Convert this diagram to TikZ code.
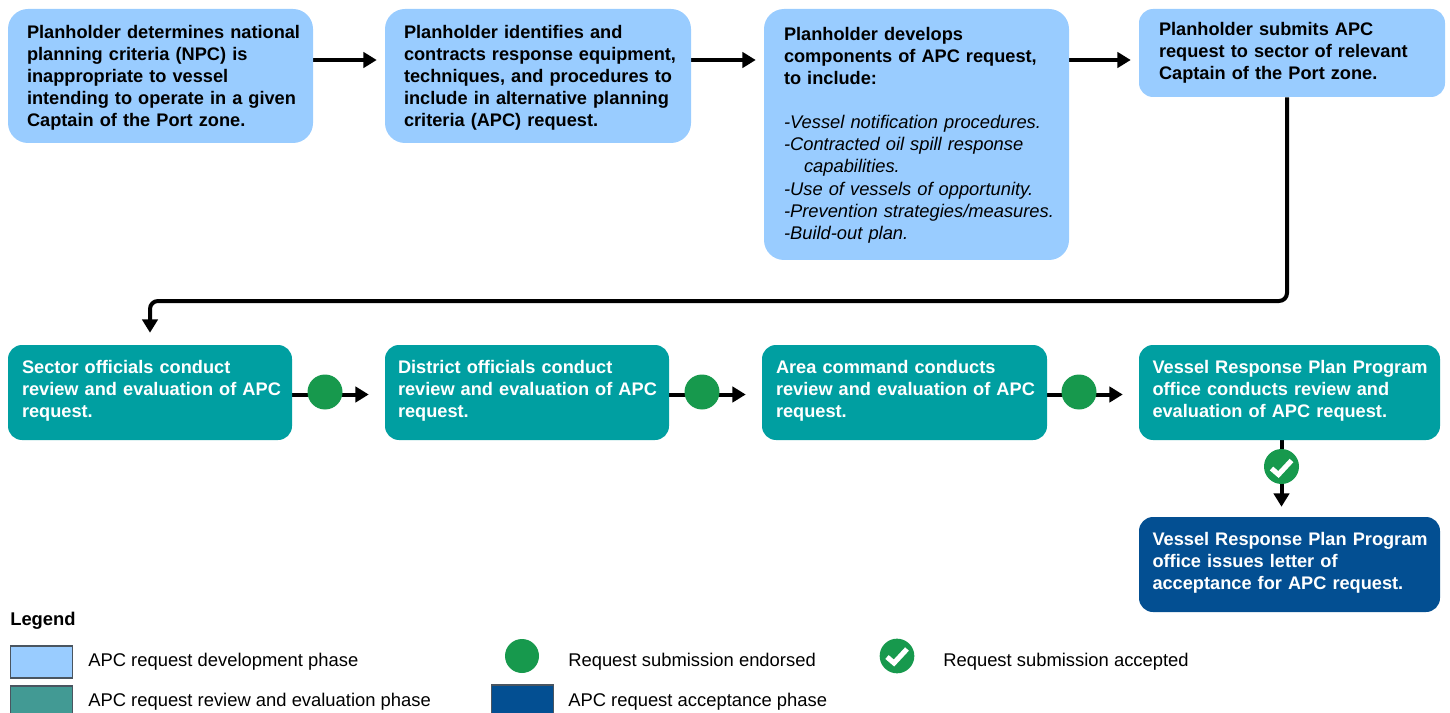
\documentclass[tikz,border=0pt]{standalone}
\usepackage{fontspec}
\setmainfont{Liberation Sans}
\usetikzlibrary{arrows.meta}
\definecolor{devblue}{HTML}{99CCFF}
\definecolor{revteal}{HTML}{009FA1}
\definecolor{accblue}{HTML}{034F92}
\definecolor{endgreen}{HTML}{17994D}
\definecolor{legteal}{HTML}{429A94}
\definecolor{legedge}{HTML}{4A5560}
\pgfdeclarelayer{back}
\pgfsetlayers{back,main}
\tikzset{
  x=0.75pt,y=-0.75pt,
  phase/.style n args={4}{rectangle,rounded corners=#4*0.75pt,minimum width=#1*0.75pt,minimum height=#2*0.75pt,
    text width=#1*0.75pt,inner xsep=0pt,inner ysep=0pt,align=left,
    font=\fontsize{13.65}{16.5}\selectfont\bfseries,
    execute at begin node={\pgfmathsetlength\leftskip{#3*0.75pt}}},
  dev/.style={fill=devblue,text=black},
  rev/.style={fill=revteal,text=white},
  acc/.style={fill=accblue,text=white},
  flow/.style={line width=3pt,-{Triangle[length=10pt,width=11.5pt]},shorten >=6pt},
  rowflow/.style={flow,shorten >=12pt},
  endorse/.style={circle,fill=endgreen,minimum size=26.25pt,inner sep=0pt},
  tick/.style={draw=white,line width=3.8pt},
  legbox/.style={rectangle,draw=legedge,line width=0.9pt,minimum width=47pt,minimum height=24pt,inner sep=0pt},
  legtext/.style={anchor=base west,inner sep=0pt,font=\fontsize{13.8}{15}\selectfont,text=black},
}
\begin{document}
\begin{tikzpicture}
\useasboundingbox (0,0) rectangle (1450,713);
\clip (0,0) rectangle (1450,713);
% process boxes
\node[phase={305}{134}{19}{20},dev] (a) at (160.5,76) {Planholder determines national\\planning criteria (NPC) is\\inappropriate to vessel\\intending to operate in a given\\Captain of the Port zone.\par\vspace{-3pt}};
\node[phase={306}{134}{19}{20},dev] (b) at (538,76) {Planholder identifies and\\contracts response equipment,\\techniques, and procedures to\\include in alternative planning\\criteria (APC) request.\par\vspace{-3pt}};
\node[phase={305}{251}{20}{20},dev] (c) at (916.5,134.5) {Planholder develops\\components of APC request,\\to include:\\\mbox{}\\\fontsize{13.75}{16.65}\selectfont\normalfont\itshape -Vessel notification procedures.\\-Contracted oil spill response\\\hspace*{15pt}capabilities.\\-Use of vessels of opportunity.\\-Prevention strategies/measures.\\-Build-out plan.\par\vspace{-1pt}};
\node[phase={306}{88}{20}{14},dev] (d) at (1292,53) {Planholder submits APC\\request to sector of relevant\\Captain of the Port zone.\par\vspace{0pt}};
\node[phase={284}{95}{14}{14},rev] (e) at (150,392.5) {Sector officials conduct\\review and evaluation of APC\\request.\par\vspace{2pt}};
\node[phase={284}{95}{13}{14},rev] (f) at (527,392.5) {District officials conduct\\review and evaluation of APC\\request.\par\vspace{2pt}};
\node[phase={285}{95}{14}{14},rev] (g) at (904.5,392.5) {Area command conducts\\review and evaluation of APC\\request.\par\vspace{2pt}};
\node[phase={301}{95}{13.5}{14},rev] (h) at (1289.5,392.5) {Vessel Response Plan Program\\office conducts review and\\evaluation of APC request.\par\vspace{2pt}};
\node[phase={301}{95}{13.5}{14},acc] (i) at (1289.5,564.5) {Vessel Response Plan Program\\office issues letter of\\acceptance for APC request.\par\vspace{2pt}};
% decision markers
\node[endorse] (m1) at (325,392) {};
\node[endorse] (m2) at (702,392) {};
\node[endorse] (m3) at (1079,392) {};
\node[endorse] (m4) at (1281.5,466.5) {};
\draw[tick] (m4) ++(-10,2) -- ++(7,6) -- ++(13,-14);
% connector way-points
\coordinate (top) at (0,60);
\coordinate (rowb) at (0,394.5);
\coordinate (turnR) at (1287,301);
\coordinate (turnL) at (150,301);
\begin{pgfonlayer}{back}
\draw[flow] (a.east |- top) -- (b.west |- top);
\draw[flow] (b.east |- top) -- (c.west |- top);
\draw[flow] (c.east |- top) -- (d.west |- top);
\draw[flow,rounded corners=6pt,shorten >=9pt] (d.south -| turnR) -- (turnR) -- (turnL) -- (e.north -| turnL);
\draw[rowflow] (e.east |- rowb) -- (f.west |- rowb);
\draw[rowflow] (f.east |- rowb) -- (g.west |- rowb);
\draw[rowflow] (g.east |- rowb) -- (h.west |- rowb);
\draw[flow,shorten >=7.5pt] (h.south -| m4) -- (i.north -| m4);
\end{pgfonlayer}
% legend
\node[anchor=base west,inner sep=0pt,font=\fontsize{13.8}{15}\selectfont\bfseries] (legend) at (10,625) {Legend};
\node[legbox,fill=devblue] (k1) at (41.5,662) {};
\node[legbox,fill=legteal] (k2) at (41.5,702) {};
\node[legbox,fill=accblue] (k3) at (522.5,701) {};
\node[endorse,minimum size=25.5pt] (k4) at (522,656) {};
\node[endorse,minimum size=26pt] (k5) at (897,656) {};
\draw[tick] (k5) ++(-10,1) -- ++(7,6) -- ++(13,-14);
\node[legtext] (t1) at (88,666) {APC request development phase};
\node[legtext] (t2) at (88,706) {APC request review and evaluation phase};
\node[legtext] (t3) at (568,666) {Request submission endorsed};
\node[legtext] (t4) at (568,706) {APC request acceptance phase};
\node[legtext] (t5) at (943,666) {Request submission accepted};
\end{tikzpicture}
\end{document}
